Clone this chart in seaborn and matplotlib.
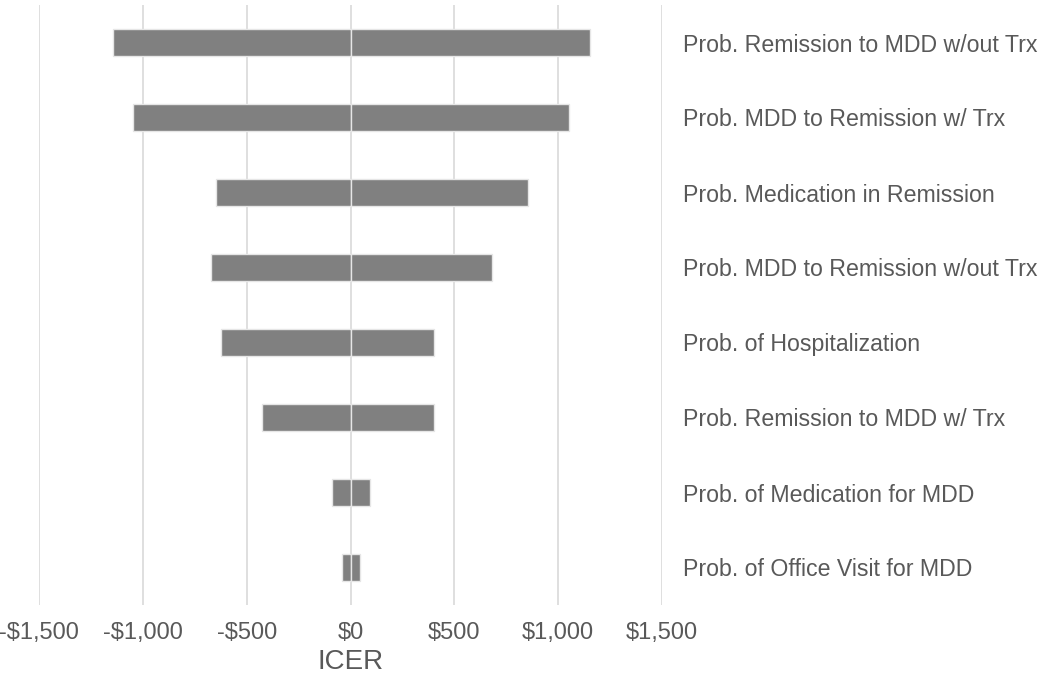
import matplotlib
matplotlib.use("Agg")
import matplotlib.pyplot as plt
import matplotlib.ticker as mticker
import seaborn as sns
import pandas as pd

params = [
    "Prob. Remission to MDD w/out Trx",
    "Prob. MDD to Remission w/ Trx",
    "Prob. Medication in Remission",
    "Prob. MDD to Remission w/out Trx",
    "Prob. of Hospitalization",
    "Prob. Remission to MDD w/ Trx",
    "Prob. of Medication for MDD",
    "Prob. of Office Visit for MDD",
]
low_vals = [-1145, -1048, -648, -672, -622, -424, -87, -42]
high_vals = [1152, 1053, 855, 679, 403, 403, 92, 48]
xticks = [-1500, -1000, -500, 0, 500, 1000, 1500]

df = pd.DataFrame({"param": params, "low": low_vals, "high": high_vals})

sns.set_theme(style="white")
plt.rcParams["font.family"] = ["Liberation Sans", "DejaVu Sans"]
text_color = "#595959"

fig = plt.figure(figsize=(10.5, 6.82), dpi=100)
ax = fig.add_axes([39 / 1050, 1 - 605 / 682, 623 / 1050, 600 / 682])

for col in ["low", "high"]:
    sns.barplot(data=df, x=col, y="param", orient="h", color="#808080",
                saturation=1, width=0.35, edgecolor="#e6e6e6", linewidth=1,
                ax=ax, zorder=3)

ax.set_xlim(-1500, 1500)
ax.set_ylim(7.5, -0.5)
ax.set_xticks(xticks)
ax.xaxis.set_major_formatter(mticker.FuncFormatter(
    lambda v, p: ("-$" if v < 0 else "$") + f"{abs(int(v)):,}"))
ax.grid(axis="x", color="#d9d9d9", linewidth=1.2, zorder=0)
ax.grid(axis="y", visible=False)
ax.set_axisbelow(True)
for s in ax.spines.values():
    s.set_visible(False)

ax.yaxis.tick_right()
ax.tick_params(axis="y", length=0, pad=15, labelsize=16.7, labelcolor=text_color)
ax.tick_params(axis="x", length=0, pad=12, labelsize=17, labelcolor=text_color)
ax.set_ylabel("")
ax.set_xlabel("ICER", fontsize=20, color=text_color, labelpad=4)

fig.savefig("out.png", dpi=100, facecolor="white")
